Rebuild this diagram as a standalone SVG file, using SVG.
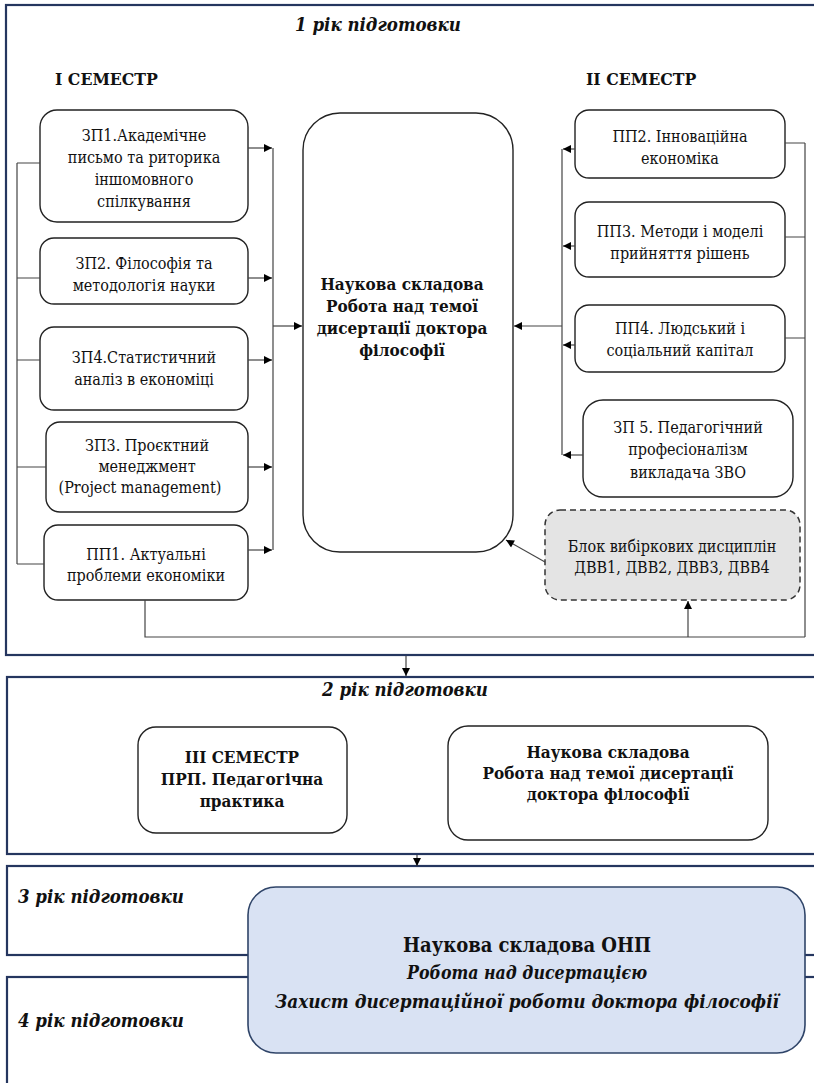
<svg xmlns="http://www.w3.org/2000/svg" width="814" height="1083" viewBox="0 0 814 1083">
<style>
.frame{fill:none;stroke:#25365f;stroke-width:2.2}
.box{fill:#fff;stroke:#222;stroke-width:1.4}
.dash{fill:#e4e4e4;stroke:#333;stroke-width:1.5;stroke-dasharray:6 4}
.blue{fill:#d9e2f3;stroke:#2f4468;stroke-width:1.6}
.t{font-family:"DejaVu Serif Condensed","DejaVu Serif",serif;font-stretch:condensed;font-size:16px;fill:#111;text-anchor:middle}
.b{font-weight:bold}
.bi{font-weight:bold;font-style:italic}
.ttl{font-size:18.5px}
.sem{font-size:17.5px;text-anchor:start}
.b17{font-size:17px}
.c{fill:none;stroke:#444;stroke-width:1.2}
</style>
<defs>
<marker id="ah" viewBox="0 0 10 10" refX="10" refY="5" markerWidth="9" markerHeight="8" markerUnits="userSpaceOnUse" orient="auto">
<path d="M0,0 L10,5 L0,10 z" fill="#000"/>
</marker>
</defs>
<rect width="814" height="1083" fill="#fff"/>

<g id="frame1">
<rect class="frame" x="6" y="5" width="850" height="650"/>
<text class="t bi ttl" x="378" y="31">1 рік підготовки</text>
<text class="t b sem" x="55" y="85">І СЕМЕСТР</text>
<text class="t b sem" x="586" y="85">ІІ СЕМЕСТР</text>
</g>
<g id="frame2">
<rect class="frame" x="7" y="677" width="850" height="177"/>
<text class="t bi ttl" x="405" y="696">2 рік підготовки</text>
</g>
<g id="frame3">
<rect class="frame" x="7" y="866" width="850" height="89"/>
<text class="t bi ttl" x="18" y="903" style="text-anchor:start">3 рік підготовки</text>
</g>
<g id="frame4">
<rect class="frame" x="7" y="977" width="850" height="200"/>
<text class="t bi ttl" x="18" y="1027" style="text-anchor:start">4 рік підготовки</text>
</g>

<g id="zp1">
<rect class="box" x="40" y="110" width="208" height="112" rx="17"/>
<text class="t" x="144" y="141">ЗП1.Академічне</text>
<text class="t" x="144" y="163">письмо та риторика</text>
<text class="t" x="144" y="185">іншомовного</text>
<text class="t" x="144" y="207">спілкування</text>
</g>
<g id="zp2">
<rect class="box" x="40" y="238" width="208" height="66" rx="14"/>
<text class="t" x="144" y="269">ЗП2. Філософія та</text>
<text class="t" x="144" y="291">методологія науки</text>
</g>
<g id="zp4">
<rect class="box" x="40" y="327" width="208" height="83" rx="14"/>
<text class="t" x="144" y="363">ЗП4.Статистичний</text>
<text class="t" x="144" y="385">аналіз в економіці</text>
</g>
<g id="zp3">
<rect class="box" x="46" y="422" width="202" height="90" rx="14"/>
<text class="t" x="147" y="451">ЗП3. Проєктний</text>
<text class="t" x="147" y="472">менеджмент</text>
<text class="t" x="140" y="493">(Project management)</text>
</g>
<g id="pp1">
<rect class="box" x="44" y="525" width="204" height="75" rx="14"/>
<text class="t" x="146" y="560">ПП1. Актуальні</text>
<text class="t" x="146" y="581">проблеми економіки</text>
</g>

<g id="center">
<rect class="box" x="303" y="113" width="210" height="439" rx="37"/>
<text class="t b b17" x="402" y="290">Наукова складова</text>
<text class="t b b17" x="402" y="312">Робота над темої</text>
<text class="t b b17" x="402" y="334">дисертації доктора</text>
<text class="t b b17" x="402" y="356">філософії</text>
</g>

<g id="pp2">
<rect class="box" x="575" y="110" width="210" height="68" rx="14"/>
<text class="t" x="680" y="142">ПП2. Інноваційна</text>
<text class="t" x="680" y="164">економіка</text>
</g>
<g id="pp3">
<rect class="box" x="575" y="202" width="210" height="75" rx="14"/>
<text class="t" x="680" y="237">ПП3. Методи і моделі</text>
<text class="t" x="680" y="259">прийняття рішень</text>
</g>
<g id="pp4">
<rect class="box" x="575" y="305" width="210" height="67" rx="14"/>
<text class="t" x="680" y="334">ПП4. Людський і</text>
<text class="t" x="680" y="356">соціальний капітал</text>
</g>
<g id="zp5">
<rect class="box" x="583" y="400" width="210" height="97" rx="20"/>
<text class="t" x="688" y="433">ЗП 5. Педагогічний</text>
<text class="t" x="688" y="455">професіоналізм</text>
<text class="t" x="688" y="478">викладача ЗВО</text>
</g>
<g id="dvv">
<rect class="dash" x="545" y="510" width="255" height="90" rx="15"/>
<text class="t" x="672" y="552">Блок вибіркових дисциплін</text>
<text class="t" x="672" y="573">ДВВ1, ДВВ2, ДВВ3, ДВВ4</text>
</g>

<g id="sem3">
<rect class="box" x="138" y="727" width="209" height="106" rx="18"/>
<text class="t b b17" x="242" y="763">ІІІ СЕМЕСТР</text>
<text class="t b b17" x="242" y="785">ПРП. Педагогічна</text>
<text class="t b b17" x="242" y="807">практика</text>
</g>
<g id="sci2">
<rect class="box" x="448" y="726" width="320" height="114" rx="20"/>
<text class="t b b17" x="608" y="758">Наукова складова</text>
<text class="t b b17" x="608" y="779">Робота над темої дисертації</text>
<text class="t b b17" x="608" y="800">доктора філософії</text>
</g>

<g id="onp">
<rect class="blue" x="248" y="887" width="557" height="166" rx="28"/>
<text class="t b" x="527" y="952" style="font-size:20px">Наукова складова ОНП</text>
<text class="t bi" x="527" y="979" style="font-size:19px" textLength="240" lengthAdjust="spacingAndGlyphs">Робота над дисертацією</text>
<text class="t bi" x="527" y="1008" style="font-size:19px" textLength="504" lengthAdjust="spacingAndGlyphs">Захист дисертаційної роботи доктора філософії</text>
</g>

<g id="connectors">
<path class="c" d="M17,163 V564 M17,163 H40 M17,278 H40 M17,360 H40 M17,467 H46 M17,564 H44"/>
<path class="c" d="M273,148 V550"/>
<path class="c" d="M248,148 H272" marker-end="url(#ah)"/>
<path class="c" d="M248,278 H272" marker-end="url(#ah)"/>
<path class="c" d="M248,360 H272" marker-end="url(#ah)"/>
<path class="c" d="M248,467 H272" marker-end="url(#ah)"/>
<path class="c" d="M248,550 H272" marker-end="url(#ah)"/>
<path class="c" d="M273,326 H302" marker-end="url(#ah)"/>
<path class="c" d="M562,149 V455"/>
<path class="c" d="M575,149 H563" marker-end="url(#ah)"/>
<path class="c" d="M575,246 H563" marker-end="url(#ah)"/>
<path class="c" d="M575,345 H563" marker-end="url(#ah)"/>
<path class="c" d="M583,455 H563" marker-end="url(#ah)"/>
<path class="c" d="M562,326 H514" marker-end="url(#ah)"/>
<path class="c" d="M805,143 V637 M785,143 H805 M785,237 H805 M785,338 H805"/>
<path class="c" d="M145,600 V637 H805"/>
<path class="c" d="M688,637 V601" marker-end="url(#ah)"/>
<path class="c" d="M545,562 L506,540" marker-end="url(#ah)"/>
<path class="c" d="M406,656 V676" marker-end="url(#ah)"/>
<path class="c" d="M417,855 V866" marker-end="url(#ah)"/>
</g>
</svg>
